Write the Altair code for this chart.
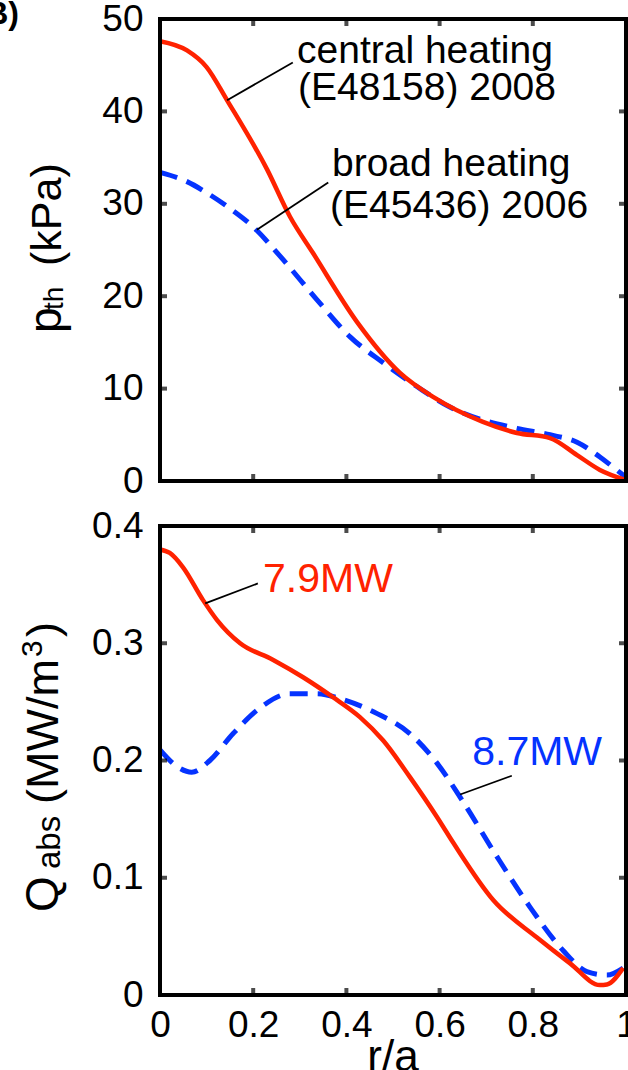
import altair as alt
import pandas as pd

# ---------------- data ----------------
# Top panel: thermal pressure p_th (kPa) versus r/a
r_top_central = [0.0, 0.058, 0.10, 0.144, 0.23, 0.279, 0.328, 0.423, 0.515, 0.586, 0.693, 0.766, 0.837, 0.895, 0.944, 1.0]
p_top_central = [47.6, 46.6, 44.8, 41.2, 33.7, 28.6, 24.7, 17.2, 11.7, 9.1, 6.4, 5.2, 4.65, 2.8, 1.2, 0.1]

r_top_broad = [0.0, 0.058, 0.10, 0.15, 0.20, 0.26, 0.337, 0.408, 0.479, 0.552, 0.622, 0.693, 0.766, 0.837, 0.895, 0.944, 0.98, 1.0]
p_top_broad = [33.4, 32.4, 31.2, 29.5, 27.5, 24.2, 19.6, 15.6, 12.8, 10.2, 8.0, 6.6, 5.7, 5.0, 4.2, 2.6, 1.2, 0.4]

# Bottom panel: absorbed power density Q_abs (MW/m^3) versus r/a
r_bot_central = [0.0, 0.021, 0.049, 0.092, 0.122, 0.172, 0.242, 0.307, 0.371, 0.429, 0.479, 0.536, 0.594, 0.629, 0.715, 0.809, 0.88, 0.944, 0.959, 0.994]
q_bot_central = [0.380, 0.377, 0.365, 0.337, 0.320, 0.300, 0.286, 0.271, 0.254, 0.237, 0.217, 0.186, 0.152, 0.130, 0.081, 0.049, 0.027, 0.0085, 0.009, 0.023]

r_bot_broad = [0.0, 0.036, 0.068, 0.107, 0.157, 0.215, 0.279, 0.337, 0.393, 0.466, 0.536, 0.594, 0.65, 0.723, 0.794, 0.865, 0.916, 0.959, 0.994]
q_bot_broad = [0.209, 0.195, 0.190, 0.200, 0.223, 0.245, 0.257, 0.257, 0.252, 0.240, 0.223, 0.198, 0.165, 0.118, 0.075, 0.038, 0.020, 0.017, 0.023]

x_ticks = [0, 0.2, 0.4, 0.6, 0.8, 1.0]
y_top_ticks = [0, 10, 20, 30, 40, 50]
y_bot_ticks = [0, 0.1, 0.2, 0.3, 0.4]

# annotations (text, r/a, value)
top_text = ["central heating", "(E48158) 2008", "broad heating", "(E45436) 2006"]
top_text_r = [0.294, 0.296, 0.369, 0.365]
top_text_v = [45.2, 41.2, 33.0, 28.5]

top_lead_r = [0.144, 0.208]
top_lead_r2 = [0.285, 0.361]
top_lead_v = [41.2, 27.2]
top_lead_v2 = [45.3, 32.3]

bot_text = ["7.9MW", "8.7MW"]
bot_text_r = [0.221, 0.67]
bot_text_v = [0.344, 0.196]
bot_text_series = ["central", "broad"]

bot_lead_r = [0.097, 0.644]
bot_lead_r2 = [0.210, 0.755]
bot_lead_v = [0.334, 0.171]
bot_lead_v2 = [0.351, 0.187]

panel_label = "(B)"
x_title = "r/a"
top_title_parts = ["p", "th", "(kPa)"]
bot_title_parts = ["Q", "abs", "(MW/m", "3", ")"]

# ---------------- styling / geometry ----------------
FONT = "Liberation Sans"
RED = "#FF2200"
BLUE = "#0533FF"
W = 466            # plot width (r/a from 0 to 1)
H = 976            # both panels together
TOP_H = 462        # top panel occupies 0..462
BOT_Y0 = 507       # bottom panel occupies 507..976
TICK = 7

xs = alt.Scale(domain=[0, 1], nice=False, zero=False)
yts = alt.Scale(domain=[0, 50], range=[TOP_H, 0], nice=False, zero=False)
ybs = alt.Scale(domain=[0, 0.4], range=[H, BOT_Y0], nice=False, zero=False)

AX = dict(domain=False, grid=False, ticks=False, labelFont=FONT, labelFontSize=37,
          labelColor="black", labelFlush=False, labelOverlap=False, title=None)


def yaxis(values, fmt):
    return alt.Axis(orient="left", values=values, format=fmt, labelPadding=17, **AX)


xaxis = alt.Axis(orient="bottom", values=x_ticks, format=".1~f", labelPadding=12, **AX)
NOX = alt.X("r:Q", scale=xs, axis=None)


def line(r, v, yscale, color, dashed, xax=None, yax=None):
    kw = dict(color=color, interpolate="monotone")
    if dashed:
        kw.update(strokeWidth=5, strokeDash=[18, 10])
    else:
        kw.update(strokeWidth=4.5)
    return alt.Chart(pd.DataFrame({"r": r, "v": v})).mark_line(**kw).encode(
        x=alt.X("r:Q", scale=xs, axis=xax),
        y=alt.Y("v:Q", scale=yscale, axis=yax),
    )


def frame_layers(yscale, yvals, vmin, vmax):
    out = []
    # frame box
    out.append(alt.Chart(pd.DataFrame({"r": [0], "r2": [1], "v": [vmin], "v2": [vmax]})).mark_rect(
        fillOpacity=0, stroke="black", strokeWidth=4
    ).encode(x=NOX, x2="r2:Q", y=alt.Y("v:Q", scale=yscale, axis=None), y2="v2:Q"))
    # inward ticks on the four sides
    for v, off in ((vmin, -TICK / 2), (vmax, TICK / 2)):
        out.append(alt.Chart(pd.DataFrame({"r": x_ticks, "v": [v] * len(x_ticks)})).mark_tick(
            orient="vertical", color="black", thickness=4, size=TICK, yOffset=off
        ).encode(x=NOX, y=alt.Y("v:Q", scale=yscale, axis=None)))
    for r, off in ((0, TICK / 2), (1, -TICK / 2)):
        out.append(alt.Chart(pd.DataFrame({"r": [r] * len(yvals), "v": yvals})).mark_tick(
            orient="horizontal", color="black", thickness=4, size=TICK, xOffset=off
        ).encode(x=NOX, y=alt.Y("v:Q", scale=yscale, axis=None)))
    return out


def leaders(r, r2, v, v2, yscale):
    return alt.Chart(pd.DataFrame({"r": r, "r2": r2, "v": v, "v2": v2})).mark_rule(
        color="black", strokeWidth=1.8
    ).encode(x=NOX, x2="r2:Q", y=alt.Y("v:Q", scale=yscale, axis=None), y2="v2:Q")


def rot_text(txt, x, y, size):
    return alt.Chart(pd.DataFrame({"t": [txt]})).mark_text(
        angle=270, align="left", baseline="alphabetic", font=FONT, fontSize=size, color="black"
    ).encode(text="t:N", x=alt.value(x), y=alt.value(y))


# ---------------- top panel ----------------
top_layers = [
    line(r_top_broad, p_top_broad, yts, BLUE, True),
    line(r_top_central, p_top_central, yts, RED, False, yax=yaxis(y_top_ticks, "d")),
    leaders(top_lead_r, top_lead_r2, top_lead_v, top_lead_v2, yts),
    alt.Chart(pd.DataFrame({"t": top_text, "r": top_text_r, "v": top_text_v})).mark_text(
        align="left", baseline="alphabetic", font=FONT, fontSize=39, color="black"
    ).encode(x=NOX, y=alt.Y("v:Q", scale=yts, axis=None), text="t:N"),
    *frame_layers(yts, y_top_ticks, 0, 50),
    rot_text(top_title_parts[0], -99, 314, 46),
    rot_text(top_title_parts[1], -97, 291, 28),
    rot_text(top_title_parts[2], -99, 247, 43),
    alt.Chart(pd.DataFrame({"t": [panel_label]})).mark_text(
        align="right", baseline="alphabetic", font=FONT, fontSize=32, fontWeight="bold", color="black"
    ).encode(text="t:N", x=alt.value(-141), y=alt.value(5)),
]

# ---------------- bottom panel ----------------
bot_layers = [
    line(r_bot_broad, q_bot_broad, ybs, BLUE, True),
    line(r_bot_central, q_bot_central, ybs, RED, False, xax=xaxis, yax=yaxis(y_bot_ticks, ".1~f")),
    leaders(bot_lead_r, bot_lead_r2, bot_lead_v, bot_lead_v2, ybs),
    alt.Chart(pd.DataFrame({"t": bot_text, "r": bot_text_r, "v": bot_text_v, "s": bot_text_series})).mark_text(
        align="left", baseline="alphabetic", font=FONT, fontSize=41
    ).encode(
        x=NOX, y=alt.Y("v:Q", scale=ybs, axis=None), text="t:N",
        color=alt.Color("s:N", scale=alt.Scale(domain=["central", "broad"], range=[RED, BLUE]), legend=None),
    ),
    *frame_layers(ybs, y_bot_ticks, 0, 0.4),
    rot_text(bot_title_parts[0], -102, 893, 46),
    rot_text(bot_title_parts[1], -100, 850, 33),
    rot_text(bot_title_parts[2], -102, 785, 45),
    rot_text(bot_title_parts[3], -118, 638, 30),
    rot_text(bot_title_parts[4], -102, 618, 45),
    alt.Chart(pd.DataFrame({"t": [x_title]})).mark_text(
        align="center", baseline="top", font=FONT, fontSize=44, color="black"
    ).encode(text="t:N", x=alt.value(233), y=alt.value(1017)),
]

chart = alt.layer(*top_layers, *bot_layers).resolve_scale(
    y="independent"
).resolve_axis(
    x="independent", y="independent"
).properties(
    width=W, height=H,
    autosize=alt.AutoSizeParams(type="none"),
    padding={"left": 160, "top": 19, "right": 2, "bottom": 75},
    background="white",
).configure(font=FONT).configure_view(strokeWidth=0)

chart.save("out.html", embed_options={"renderer": "svg", "actions": False})
